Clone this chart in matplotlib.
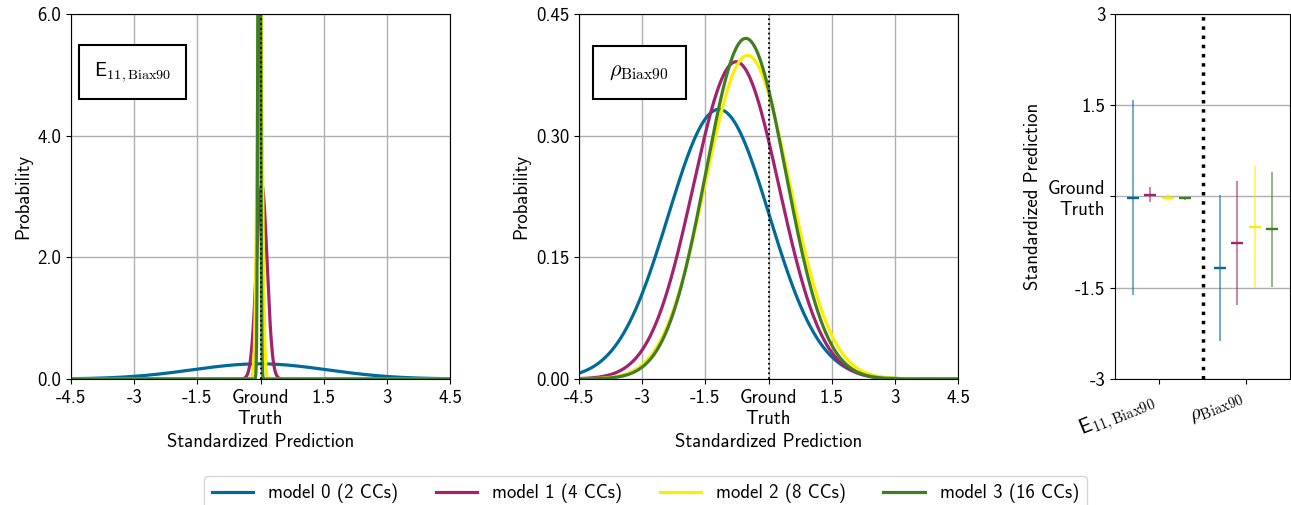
import numpy as np
import matplotlib
matplotlib.use("Agg")
import matplotlib.pyplot as plt
from matplotlib.colors import to_rgba

plt.rcParams['font.family'] = ['cmss10', 'DejaVu Sans']
plt.rcParams['mathtext.fontset'] = 'cm'
plt.rcParams['axes.unicode_minus'] = False
plt.rcParams['axes.formatter.use_mathtext'] = True

# data (mean and std of the standardized prediction)
labels = ['model 0 (2 CCs)', 'model 1 (4 CCs)', 'model 2 (8 CCs)', 'model 3 (16 CCs)']
colors = ['#006b9a', '#a2226e', '#ffed00', '#3f7f22']
e11_mean = [-0.02, 0.03, -0.02, -0.03]
e11_std = [1.60, 0.125, 0.055, 0.025]
rho_mean = [-1.18, -0.77, -0.50, -0.54]
rho_std = [1.20, 1.02, 1.00, 0.95]
targets = [r'E$_{11,\mathrm{Biax90}}$', r'$\rho_{\mathrm{Biax90}}$']

xticks = [-4.5, -3, -1.5, 0, 1.5, 3, 4.5]
xticklabels = ['-4.5', '-3', '-1.5', 'Ground\nTruth', '1.5', '3', '4.5']

X = np.linspace(-4.5, 4.5, 1000)


def pdf(x, mu, s):
    return np.exp(-(x - mu)**2 / (2 * s**2)) / (s * np.sqrt(2 * np.pi))


fig = plt.figure(figsize=(12.91, 5.05), dpi=100)
ax1 = fig.add_axes([0.0550, 0.2495, 0.2936, 0.7228])
ax2 = fig.add_axes([0.4485, 0.2495, 0.2936, 0.7228])
ax3 = fig.add_axes([0.8637, 0.2495, 0.1355, 0.7228])

FS = 13.5

for ax, means, stds, ymax, yt, ytl, name, bx, bfs in [
        (ax1, e11_mean, e11_std, 6.0, [0, 2, 4, 6], ['0.0', '2.0', '4.0', '6.0'], targets[0], 0.06, 14.5),
        (ax2, rho_mean, rho_std, 0.45, [0, 0.15, 0.30, 0.45], ['0.00', '0.15', '0.30', '0.45'], targets[1], 0.08, 16)]:
    for m, s, c, lab in zip(means, stds, colors, labels):
        ax.plot(X, pdf(X, m, s), color=c, lw=2.3, label=lab)
    ax.axvline(0, color='black', ls=':', lw=1.3, zorder=5)
    ax.set_xlim(-4.5, 4.5)
    ax.set_ylim(0, ymax)
    ax.set_xticks(xticks)
    ax.set_xticklabels(xticklabels, fontsize=FS)
    ax.set_yticks(yt)
    ax.set_yticklabels(ytl, fontsize=FS)
    ax.grid(True, color='#b0b0b0', lw=1)
    ax.set_axisbelow(True)
    ax.set_xlabel('Standardized Prediction', fontsize=FS)
    ax.set_ylabel('Probability', fontsize=FS)
    ax.text(bx, 0.84, name, transform=ax.transAxes, fontsize=bfs, va='center', ha='left',
            bbox=dict(boxstyle='square,pad=0.75', fc='white', ec='black', lw=1.5))

# right panel: mean +- std per target
offsets = [-0.3, -0.1, 0.1, 0.3]
for i, c in enumerate(colors):
    xs = [0 + offsets[i], 1 + offsets[i]]
    ys = [e11_mean[i], rho_mean[i]]
    es = [e11_std[i], rho_std[i]]
    ax3.errorbar(xs, ys, yerr=es, fmt='_', color=c, ecolor=to_rgba(c, 0.6), elinewidth=1.3,
                 markersize=9, mew=1.7, capsize=0)
ax3.axvline(0.5, color='black', ls=':', lw=2.5)
ax3.set_xlim(-0.5, 1.5)
ax3.set_ylim(-3, 3)
ax3.set_yticks([-3, -1.5, 0, 1.5, 3])
ax3.set_yticklabels(['-3', '-1.5', 'Ground\nTruth', '1.5', '3'], fontsize=FS)
ax3.set_xticks([0, 1])
ax3.set_xticklabels(targets, fontsize=15, rotation=22, ha='right')
ax3.yaxis.grid(True, color='#b0b0b0', lw=1)
ax3.set_axisbelow(True)
ax3.set_ylabel('Standardized Prediction', fontsize=FS)

h, l = ax1.get_legend_handles_labels()
fig.legend(h, l, loc='lower center', bbox_to_anchor=(0.5, -0.03), ncol=4, fontsize=FS,
           columnspacing=2.0, handlelength=2.2)

fig.savefig('out.png', dpi=100)
